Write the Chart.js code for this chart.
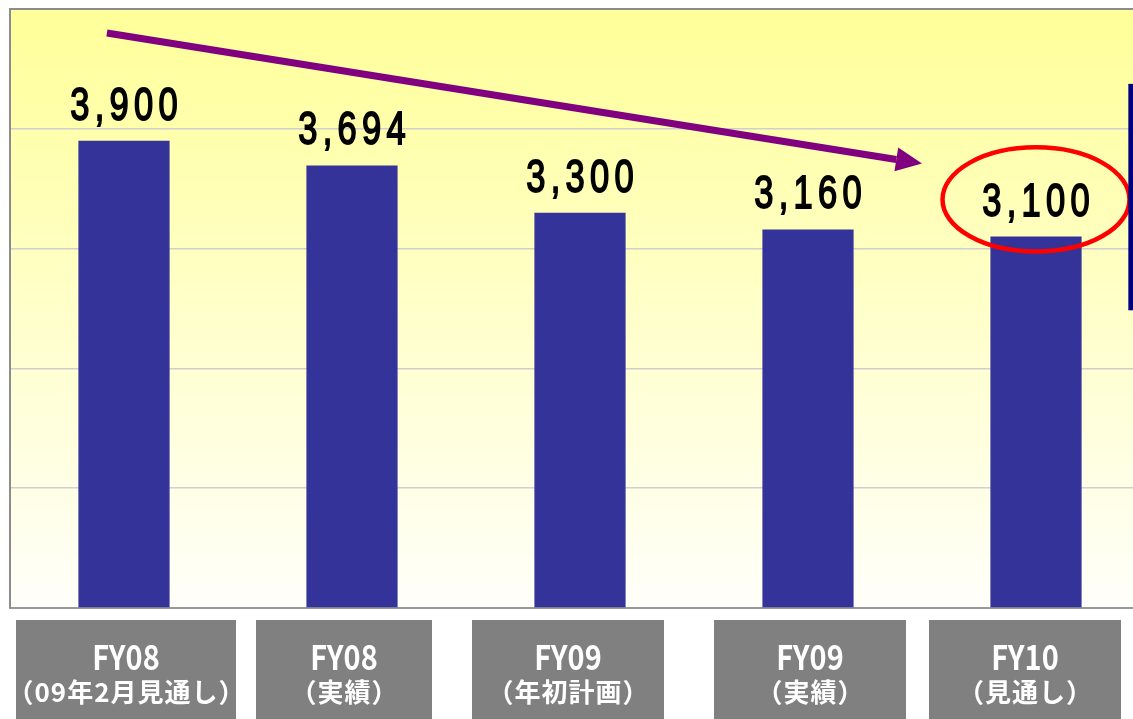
<!DOCTYPE html>
<html><head><meta charset="utf-8">
<script src="https://cdn.jsdelivr.net/npm/chart.js@4.4.0/dist/chart.umd.min.js"></script>
<style>
html,body{margin:0;padding:0;background:#fff;overflow:hidden}
#wrap{width:1150px;height:719px}
</style></head><body>
<div id="wrap"><canvas id="c"></canvas></div>
<script>
// data
const periods=['FY08','FY08','FY09','FY09','FY10'];
const notes=['（09年2月見通し）','（実績）','（年初計画）','（実績）','（見通し）'];
const values=[3900,3694,3300,3160,3100];
const yTicks=[0,1000,2000,3000,4000,5000];

// annotations in data units (x = category index)
const trendFrom={x:-0.075,y:4800}, trendTo={x:3.5,y:3710};
const ring={x:4,y:3410,rx:0.41,ry:435};
const sideMark={x:4.405,top:4375,bottom:2485};

// label box look
const boxW=[220,176,192,192,192];
const boxShift=[2,-8,-12,2,-11];

function stretched(ctx,txt,x,y,font,sx,base,ls,sw){
  ctx.save();
  ctx.translate(x,y); ctx.scale(sx,1);
  ctx.font=font; ctx.textAlign='center'; ctx.textBaseline=base||'middle';
  ctx.letterSpacing=(ls||0)+'px';
  ctx.fillText(txt,(ls||0)/2,0);
  if(sw){ ctx.lineWidth=sw; ctx.strokeStyle=ctx.fillStyle; ctx.strokeText(txt,(ls||0)/2,0); }
  ctx.restore();
}

const deco={
  id:'deco',
  beforeDraw(ch){
    const {ctx,chartArea:a}=ch;
    const g=ctx.createLinearGradient(0,a.top,0,a.bottom);
    g.addColorStop(0,'#ffff99'); g.addColorStop(1,'#fffffa');
    ctx.save();
    ctx.fillStyle=g;
    ctx.fillRect(a.left,a.top,a.right-a.left,a.bottom-a.top);
    ctx.restore();
  },
  afterDatasetsDraw(ch){
    const {ctx}=ch;
    ctx.save();
    ctx.fillStyle='#000';
    ch.getDatasetMeta(0).data.forEach((b,i)=>{
      stretched(ctx,values[i].toLocaleString('en-US'),b.x,b.y-21,'46px "Liberation Sans"',0.75,'alphabetic',7,1.8);
    });
    ctx.restore();
  },
  afterDraw(ch){
    const {ctx,chartArea:a,scales:{x,y}}=ch;
    ctx.save();
    // frame
    ctx.strokeStyle='#8c8c8c'; ctx.lineWidth=2;
    ctx.beginPath(); ctx.moveTo(a.left,a.bottom); ctx.lineTo(a.left,a.top); ctx.lineTo(a.right,a.top); ctx.stroke();

    // trend arrow
    const x0=x.getPixelForValue(trendFrom.x), y0=y.getPixelForValue(trendFrom.y);
    const x1=x.getPixelForValue(trendTo.x), y1=y.getPixelForValue(trendTo.y);
    const ang=Math.atan2(y1-y0,x1-x0), head=26, hw=12;
    const bx=x1-head*Math.cos(ang), by=y1-head*Math.sin(ang);
    ctx.strokeStyle='#800080'; ctx.fillStyle='#800080'; ctx.lineWidth=7;
    ctx.beginPath(); ctx.moveTo(x0,y0); ctx.lineTo(bx,by); ctx.stroke();
    ctx.beginPath();
    ctx.moveTo(x1,y1);
    ctx.lineTo(bx+hw*Math.sin(ang),by-hw*Math.cos(ang));
    ctx.lineTo(bx-hw*Math.sin(ang),by+hw*Math.cos(ang));
    ctx.closePath(); ctx.fill();

    // highlight ring
    const cx=x.getPixelForValue(ring.x), cy=y.getPixelForValue(ring.y);
    const rx=x.getPixelForValue(ring.x+ring.rx)-cx, ry=cy-y.getPixelForValue(ring.y+ring.ry);
    ctx.strokeStyle='#ff0000'; ctx.lineWidth=4.5;
    ctx.beginPath(); ctx.ellipse(cx,cy,rx,ry,0,0,Math.PI*2); ctx.stroke();

    // navy edge mark
    const sx=x.getPixelForValue(sideMark.x);
    const st=y.getPixelForValue(sideMark.top), sb=y.getPixelForValue(sideMark.bottom);
    ctx.fillStyle='#000080';
    ctx.fillRect(sx,st,8,sb-st);

    // category boxes
    periods.forEach((p,i)=>{
      const bx=x.getPixelForValue(i)+boxShift[i], w=boxW[i];
      ctx.fillStyle='#808080';
      ctx.fillRect(bx-w/2,a.bottom+12,w,99);
      ctx.fillStyle='#ffffff';
      stretched(ctx,p,bx,a.bottom+49,'bold 34px "Noto Sans CJK JP"',0.85);
      stretched(ctx,notes[i],bx,a.bottom+84,'bold 26px "Noto Sans CJK JP"',1,'middle',1);
    });
    ctx.restore();
  }
};

new Chart(document.getElementById('c'),{
  type:'bar',
  data:{labels:periods,datasets:[{data:values,backgroundColor:'#333399',barPercentage:0.4,categoryPercentage:1}]},
  options:{
    responsive:true,maintainAspectRatio:false,animation:false,
    layout:{padding:{top:9,left:10,right:0,bottom:0}},
    plugins:{legend:{display:false},tooltip:{enabled:false}},
    scales:{
      x:{
        ticks:{display:false},
        grid:{display:false,drawTicks:false},
        border:{display:true,color:'#999999',width:2},
        afterFit:s=>{s.height=111;}
      },
      y:{
        min:0,max:5000,
        afterBuildTicks:s=>{s.ticks=yTicks.map(v=>({value:v}));},
        ticks:{display:false},
        grid:{color:'#cfcfcf',lineWidth:1.5,drawTicks:false},
        border:{display:false},
        afterFit:s=>{s.width=0;}
      }
    }
  },
  plugins:[deco]
});
</script>
</body></html>
